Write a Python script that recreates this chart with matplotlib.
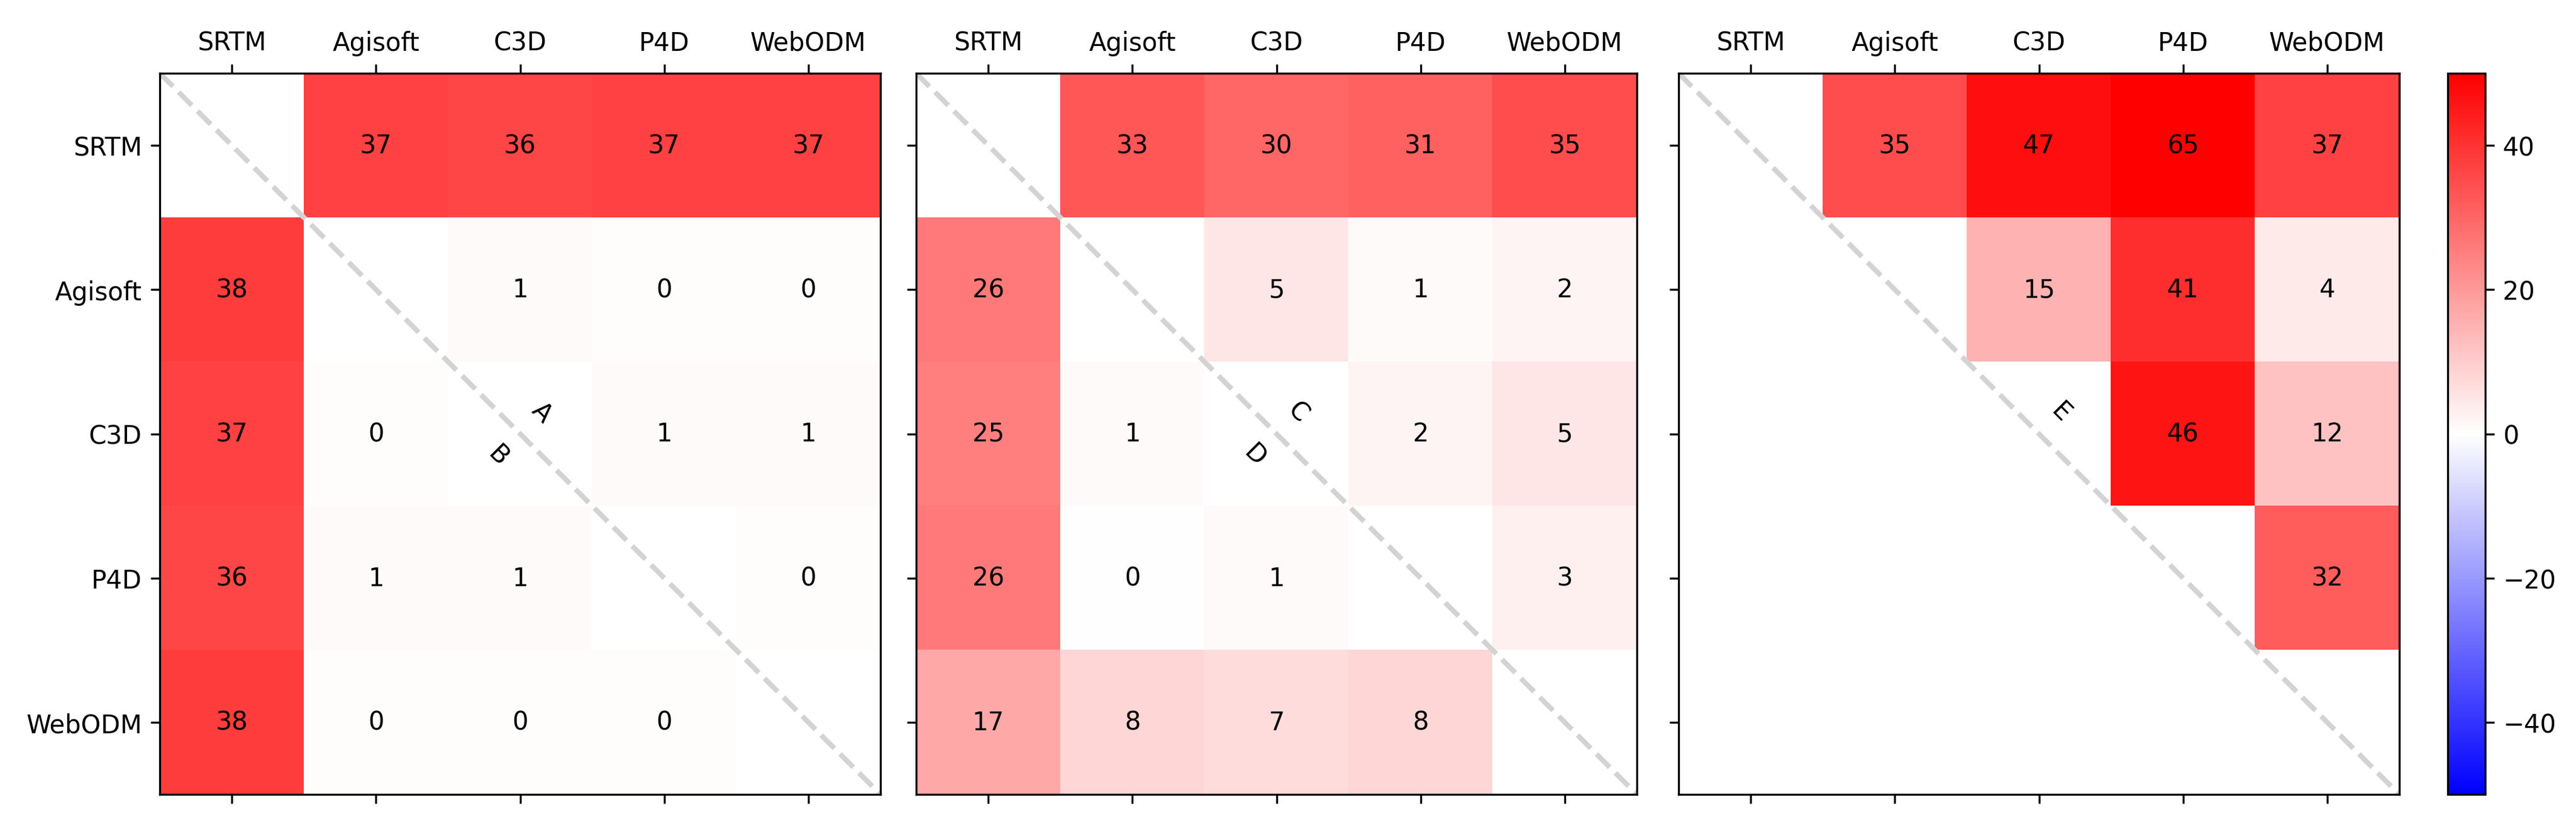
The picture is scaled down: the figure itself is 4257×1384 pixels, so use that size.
import numpy as np
import matplotlib
matplotlib.use("Agg")
import matplotlib.pyplot as plt

names = ["SRTM", "Agisoft", "C3D", "P4D", "WebODM"]
nan = np.nan

# panel 1: A above the diagonal, B below
vals_ab = [[nan, 37, 36, 37, 37],
           [38, nan, 1, 0.4, 0.4],
           [37, 0.4, nan, 1, 1],
           [36, 1, 1, nan, 0.4],
           [38, 0.4, 0.4, 0.4, nan]]

# panel 2: C above, D below
vals_cd = [[nan, 33, 30, 31, 35],
           [26, nan, 5, 1, 2],
           [25, 1, nan, 2, 5],
           [26, 0.3, 1, nan, 3],
           [17, 8, 7, 8, nan]]

# panel 3: E above only
vals_e = [[nan, 35, 47, 65, 37],
          [nan, nan, 15, 41, 4],
          [nan, nan, nan, 46, 12],
          [nan, nan, nan, nan, 32],
          [nan, nan, nan, nan, nan]]

panels = [(vals_ab, "A", "B"), (vals_cd, "C", "D"), (vals_e, "E", None)]
lefts = [263, 1513, 2773]

W, H = 4257, 1385
fig = plt.figure(figsize=(W / 300, H / 300), dpi=300)

for k, (vals, up, low) in enumerate(panels):
    m = np.array(vals, dtype=float)
    ax = fig.add_axes([lefts[k] / W, (H - 1313) / H, 1193 / W, 1191 / H])
    im = ax.matshow(m, cmap="bwr", vmin=-50, vmax=50)
    ax.set_xticks(range(5))
    ax.set_yticks(range(5))
    ax.set_xticklabels(names)
    if k == 0:
        ax.set_yticklabels(names)
    else:
        ax.set_yticklabels([])
    for i in range(5):
        for j in range(5):
            if not np.isnan(m[i, j]):
                ax.text(j, i, "%.0f" % m[i, j], ha="center", va="center", fontsize=10)
    ax.plot([-0.5, 4.5], [-0.5, 4.5], color="lightgray", ls="--", lw=2)
    ax.set_xlim(-0.5, 4.5)
    ax.set_ylim(4.5, -0.5)
    ax.text(2.15, 1.85, up, rotation=-45, ha="center", va="center", fontsize=10)
    if low:
        ax.text(1.85, 2.15, low, rotation=-45, ha="center", va="center", fontsize=10)

cax = fig.add_axes([4045 / W, (H - 1313) / H, 62 / W, 1191 / H])
fig.colorbar(im, cax=cax, ticks=[-40, -20, 0, 20, 40])

fig.savefig("out.png", dpi=300)
